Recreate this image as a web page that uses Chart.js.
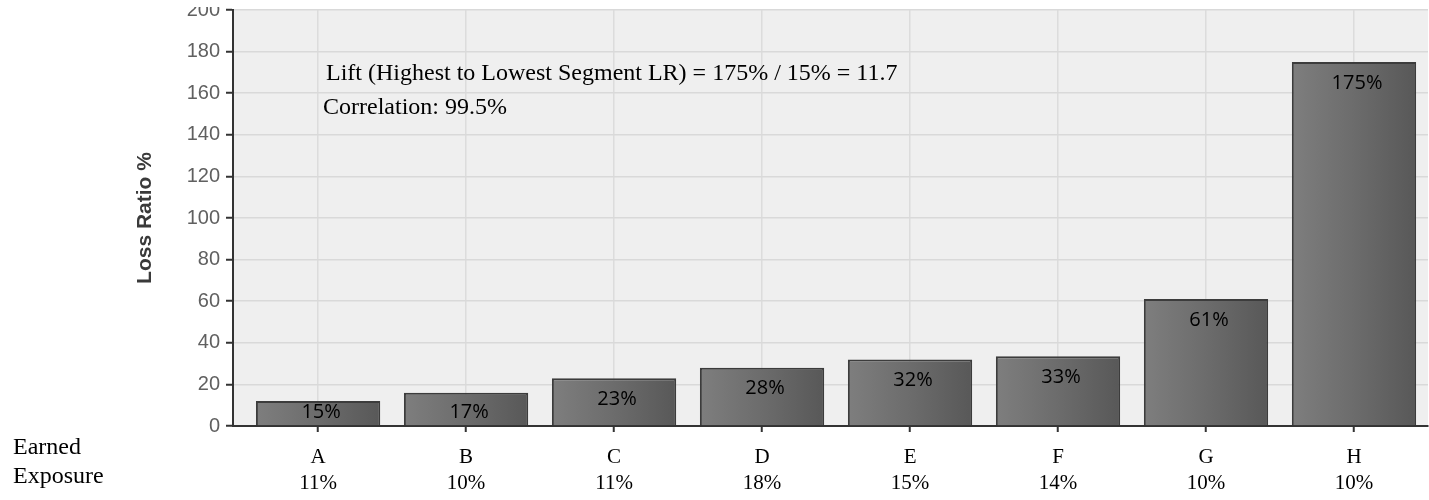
<!DOCTYPE html>
<html><head><meta charset="utf-8">
<script src="https://cdn.jsdelivr.net/npm/chart.js@4/dist/chart.umd.min.js"></script>
<style>html,body{margin:0;padding:0;background:#fff;overflow:hidden}#wrap{position:relative;width:1429px;height:500px}</style>
</head><body><div id="wrap"><canvas id="c" width="1429" height="500"></canvas></div>
<script>
const categories = ['A', 'B', 'C', 'D', 'E', 'F', 'G', 'H'];
const lossRatio = [12, 16, 23, 28, 32, 33.5, 61, 175];
const barLabels = ['15%', '17%', '23%', '28%', '32%', '33%', '61%', '175%'];
const exposure = ['11%', '10%', '11%', '18%', '15%', '14%', '10%', '10%'];
const yTicks = [0, 20, 40, 60, 80, 100, 120, 140, 160, 180, 200];
const notes = ['Lift (Highest to Lowest Segment LR) = 175% / 15% = 11.7', 'Correlation: 99.5%'];
const rowTitle = ['Earned', 'Exposure'];
const yTitle = 'Loss Ratio %';

const points = categories.map((c, i) => ({ x: i, y: lossRatio[i] }));

const bgPlugin = {
  id: 'bg',
  beforeDraw(chart) {
    const { ctx, chartArea: a } = chart;
    ctx.save();
    ctx.fillStyle = '#efefef';
    ctx.fillRect(a.left, a.top, a.right - a.left, a.bottom - a.top);
    ctx.restore();
  }
};

const textPlugin = {
  id: 'texts',
  afterDatasetsDraw(chart) {
    const { ctx, chartArea: a } = chart;
    const meta = chart.getDatasetMeta(0);
    ctx.save();
    ctx.fillStyle = '#000';
    ctx.font = '20px "Open Sans"';
    ctx.textAlign = 'center';
    ctx.textBaseline = 'middle';
    meta.data.forEach((el, i) => {
      const y = Math.min(el.y + 21, el.base - 13);
      ctx.fillText(barLabels[i], el.x + 3, y);
    });
    ctx.textAlign = 'left';
    ctx.font = '24px "Liberation Serif"';
    ctx.fillText(notes[0], a.left + 93, a.top + 64);
    ctx.fillText(notes[1], a.left + 90, a.top + 98);
    ctx.fillText(rowTitle[0], 13, a.bottom + 22);
    ctx.fillText(rowTitle[1], 13, a.bottom + 51);
    ctx.restore();
  },
  afterDraw(chart) {
    const { ctx, chartArea: a } = chart;
    ctx.save();
    ctx.fillStyle = '#fff';
    ctx.fillRect(0, 0, a.left - 2, Math.max(0, a.top - 3));
    ctx.restore();
  }
};

new Chart(document.getElementById('c'), {
  type: 'bar',
  data: {
    datasets: [{
      data: points,
      backgroundColor(ctx) {
        const chart = ctx.chart;
        if (!chart.chartArea) return '#6b6b6b';
        const x = chart.scales.x.getPixelForValue(ctx.dataIndex);
        const g = chart.ctx.createLinearGradient(x - 62, 0, x + 62, 0);
        g.addColorStop(0, '#7e7e7e');
        g.addColorStop(0.5, '#6c6c6c');
        g.addColorStop(1, '#585858');
        return g;
      },
      borderColor: '#3c3c3c',
      borderWidth: 2,
      barPercentage: 0.84,
      categoryPercentage: 1
    }]
  },
  options: {
    responsive: false,
    devicePixelRatio: 1,
    animation: false,
    layout: { padding: { left: 131, top: 10, right: 1, bottom: 0 } },
    plugins: { legend: { display: false }, tooltip: { enabled: false } },
    scales: {
      x: {
        type: 'linear',
        min: -0.575,
        max: 7.5,
        offset: false,
        afterBuildTicks(scale) { scale.ticks = categories.map((c, i) => ({ value: i })); },
        afterFit(scale) { scale.height = 74; scale.paddingLeft = 0; scale.paddingRight = 0; },
        grid: { offset: false, color: '#dcdcdc', lineWidth: 1.5, tickColor: '#333', tickLength: 6, tickWidth: 2 },
        border: { color: '#333', width: 2 },
        ticks: {
          autoSkip: false, maxRotation: 0, padding: 12, color: '#000',
          font: { family: 'Liberation Serif', size: 21, lineHeight: 1.25 },
          callback(v) { return [categories[v], exposure[v]]; }
        }
      },
      y: {
        min: 0, max: 200,
        afterBuildTicks(scale) { scale.ticks = yTicks.map(v => ({ value: v })); },
        afterFit(scale) { scale.width = 102; scale.paddingTop = 0; scale.paddingBottom = 0; },
        grid: { color: '#d9d9d9', lineWidth: 1.5, tickColor: '#333', tickLength: 7, tickWidth: 2 },
        border: { color: '#333', width: 2 },
        ticks: { padding: 6, color: '#606060', font: { family: 'Liberation Sans', size: 20 } },
        title: { display: true, text: yTitle, color: '#3a3a3a', padding: { top: 2, bottom: 4 }, font: { family: 'Liberation Sans', size: 21, weight: 'bold' } }
      }
    }
  },
  plugins: [bgPlugin, textPlugin]
});
</script></body></html>
